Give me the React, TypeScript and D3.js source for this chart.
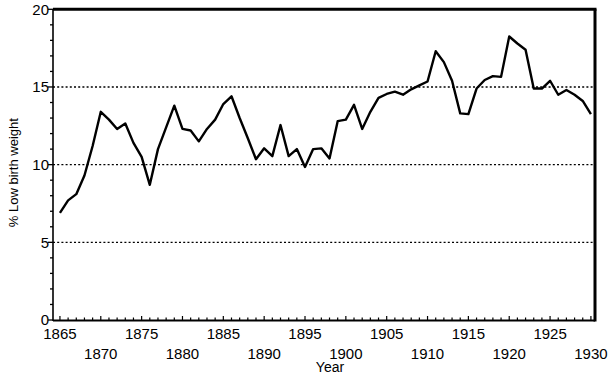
import * as React from 'react';
import { useEffect, useRef } from 'react';
import * as d3 from 'd3';

// Data (yearly values)
const years: number[] = d3.range(1865, 1931);
const lowBirthWeight: number[] = [
  6.9, 7.7, 8.1, 9.3, 11.2, 13.4, 12.9, 12.3, 12.65, 11.4,
  10.5, 8.7, 11.0, 12.4, 13.8, 12.3, 12.2, 11.5, 12.3, 12.9,
  13.9, 14.4, 13.0, 11.7, 10.35, 11.05, 10.55, 12.55, 10.55, 11.0,
  9.85, 11.0, 11.05, 10.4, 12.8, 12.9, 13.85, 12.3, 13.4, 14.3,
  14.55, 14.7, 14.5, 14.85, 15.1, 15.35, 17.3, 16.6, 15.4, 13.3,
  13.25, 14.9, 15.45, 15.7, 15.65, 18.25, 17.8, 17.4, 14.9, 14.9,
  15.4, 14.5, 14.8, 14.5, 14.1, 13.25,
];
const yTickValues: number[] = [0, 5, 10, 15, 20];
const gridValues: number[] = [5, 10, 15];
const xLabelYears: number[] = d3.range(1865, 1931, 5);

const width = 615;
const height = 375;

const App: React.FC = () => {
  const svgRef = useRef<SVGSVGElement>(null);

  useEffect(() => {
    const svg = d3.select(svgRef.current);
    svg.selectAll('*').remove();

    const left = 53, right = 595, top = 9.3, bottom = 320;
    const x = d3.scaleLinear().domain([1864.15, 1930.5]).range([left, right]);
    const y = d3.scaleLinear().domain([0, 20]).range([bottom, top]);

    const font = 'Arial, "Liberation Sans", sans-serif';

    // dotted grid lines
    svg.append('g')
      .selectAll('line')
      .data(gridValues)
      .enter().append('line')
      .attr('x1', left)
      .attr('x2', right)
      .attr('y1', d => y(d))
      .attr('y2', d => y(d))
      .attr('stroke', '#000')
      .attr('stroke-width', 1.3)
      .attr('stroke-dasharray', '2,2.2');

    // y minor + major ticks
    svg.append('g')
      .selectAll('line')
      .data(d3.range(0, 21))
      .enter().append('line')
      .attr('x1', d => (d % 5 === 0 ? left - 5 : left - 3))
      .attr('x2', left)
      .attr('y1', d => y(d))
      .attr('y2', d => y(d))
      .attr('stroke', '#000')
      .attr('stroke-width', 1.3);

    // x minor ticks (pointing inward)
    svg.append('g')
      .selectAll('line')
      .data(years)
      .enter().append('line')
      .attr('x1', d => x(d))
      .attr('x2', d => x(d))
      .attr('y1', bottom)
      .attr('y2', d => (d % 5 === 0 ? bottom - 4 : bottom - 2.5))
      .attr('stroke', '#000')
      .attr('stroke-width', 1.2);

    // frame
    svg.append('line')
      .attr('x1', left).attr('x2', left).attr('y1', top).attr('y2', bottom + 1)
      .attr('stroke', '#000').attr('stroke-width', 1.6);
    svg.append('line')
      .attr('x1', left).attr('x2', right).attr('y1', bottom + 0.5).attr('y2', bottom + 0.5)
      .attr('stroke', '#000').attr('stroke-width', 2);
    svg.append('line')
      .attr('x1', left).attr('x2', right + 1.5).attr('y1', top).attr('y2', top)
      .attr('stroke', '#000').attr('stroke-width', 3);
    svg.append('line')
      .attr('x1', right).attr('x2', right).attr('y1', top).attr('y2', bottom + 1.5)
      .attr('stroke', '#000').attr('stroke-width', 3);

    // y tick labels
    svg.append('g')
      .attr('font-family', font)
      .attr('font-size', 15)
      .attr('text-anchor', 'end')
      .selectAll('text')
      .data(yTickValues)
      .enter().append('text')
      .attr('x', left - 4)
      .attr('y', d => y(d))
      .attr('dy', '0.36em')
      .text(d => String(d));

    // x tick labels, alternating rows
    svg.append('g')
      .attr('font-family', font)
      .attr('font-size', 15)
      .attr('text-anchor', 'middle')
      .selectAll('text')
      .data(xLabelYears)
      .enter().append('text')
      .attr('x', d => x(d))
      .attr('y', (d, i) => (i % 2 === 0 ? 339 : 359))
      .text(d => String(d));

    // axis titles
    svg.append('text')
      .attr('x', 330)
      .attr('y', 372)
      .attr('text-anchor', 'middle')
      .attr('font-family', font)
      .attr('font-size', 14)
      .text('Year');

    svg.append('text')
      .attr('transform', `translate(18,${(top + bottom) / 2 + 8}) rotate(-90)`)
      .attr('text-anchor', 'middle')
      .attr('font-family', font)
      .attr('font-size', 13)
      .text('% Low birth weight');

    // data line
    const line = d3.line<number>()
      .x((_, i) => x(years[i]))
      .y(d => y(d));

    svg.append('path')
      .datum(lowBirthWeight)
      .attr('fill', 'none')
      .attr('stroke', '#000')
      .attr('stroke-width', 2.4)
      .attr('stroke-linejoin', 'round')
      .attr('d', line);
  }, []);

  return (
    <svg
      ref={svgRef}
      width={width}
      height={height}
      style={{ position: 'absolute', left: 0, top: 0, background: '#fff' }}
    ></svg>
  );
};

export default App;
